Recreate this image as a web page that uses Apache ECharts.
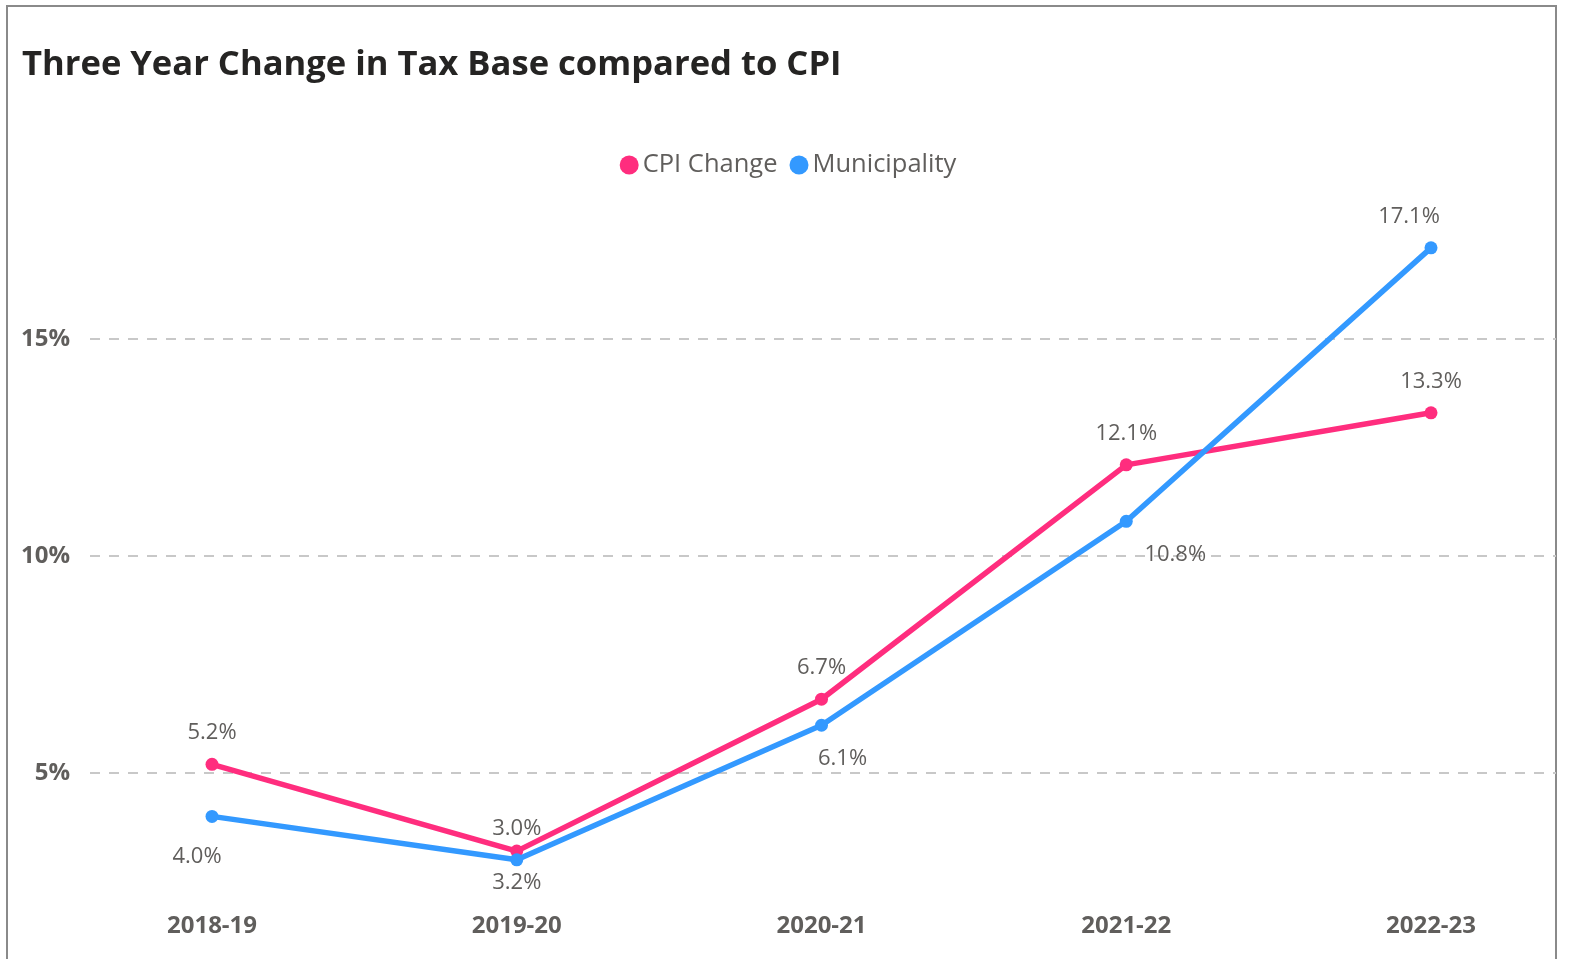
<!DOCTYPE html>
<html>
<head>
<meta charset="utf-8">
<script src="https://cdn.jsdelivr.net/npm/echarts@6/dist/echarts.min.js"></script>
<style>
html,body{margin:0;padding:0;background:#fff;overflow:hidden;width:1576px;height:959px;}
#chart{width:1576px;height:1000px;}
</style>
</head>
<body>
<div id="chart"></div>
<script>
const categories = ['2018-19', '2019-20', '2020-21', '2021-22', '2022-23'];
const cpiChange = [5.2, 3.2, 6.7, 12.1, 13.3];
const municipality = [4.0, 3.0, 6.1, 10.8, 17.1];
const yTicks = [5, 10, 15];

const FONT = '"Segoe UI", "Open Sans", "Noto Sans", sans-serif';
const TXT = '#605E5C';
const PINK = '#FF2D7E';
const BLUE = '#3399FF';

// label placement per point (presentation only)
const cpiLabelPlace = [
  {position: 'top'}, {position: 'bottom'}, {position: 'top'}, {position: 'top'}, {position: 'top'}
];
const muniLabelPlace = [
  {position: 'bottom', offset: [-15, 9]},
  {position: 'top'},
  {position: 'bottom', offset: [21, 2]},
  {position: 'bottom', offset: [49, 2]},
  {position: 'top', offset: [-22, 0]}
];

function buildData(values, places) {
  return values.map((v, i) => ({value: v, label: Object.assign({}, places[i])}));
}

const labelBase = {
  show: true,
  color: TXT,
  fontFamily: FONT,
  fontSize: 22,
  distance: 14,
  formatter: p => p.value.toFixed(1) + '%'
};

const chart = echarts.init(document.getElementById('chart'), null, {renderer: 'canvas'});
chart.setOption({
  animation: false,
  backgroundColor: '#fff',
  graphic: [{
    type: 'rect',
    shape: {x: 7, y: 6, width: 1549, height: 1000},
    style: {fill: 'none', stroke: '#8a8a8a', lineWidth: 2},
    silent: true,
    z: -10
  }],
  title: {
    text: 'Three Year Change in Tax Base compared to CPI',
    left: 17,
    top: 43,
    textStyle: {fontFamily: FONT, fontSize: 34.6, fontWeight: 'bold', color: '#252423'}
  },
  legend: {
    top: 147,
    left: 'center',
    icon: 'circle',
    itemWidth: 19,
    itemHeight: 19,
    itemGap: 12,
    textStyle: {fontFamily: FONT, fontSize: 25.5, color: TXT, padding: [0, 0, 0, -1]},
    data: ['CPI Change', 'Municipality']
  },
  grid: [
    {left: 90, right: 20, top: 122, bottom: 10},
    {left: 212, right: 145, top: 122, bottom: 10}
  ],
  xAxis: [
    {gridIndex: 0, type: 'category', data: categories, show: false},
    {
      gridIndex: 1, type: 'category', data: categories, boundaryGap: false,
      offset: -84,
      axisLine: {show: false}, axisTick: {show: false}, splitLine: {show: false},
      axisLabel: {margin: 8, fontFamily: FONT, fontSize: 24, fontWeight: 'bold', color: TXT}
    }
  ],
  yAxis: [
    {
      gridIndex: 0, type: 'value', min: 0, max: 20, interval: 5,
      axisLine: {show: false}, axisTick: {show: false},
      axisLabel: {
        margin: 20, fontFamily: FONT, fontSize: 24, fontWeight: 'bold', color: TXT,
        showMinLabel: false, showMaxLabel: false,
        formatter: v => (yTicks.indexOf(v) >= 0 ? v + '%' : '')
      },
      splitLine: {
        show: true, showMinLine: false, showMaxLine: false,
        lineStyle: {color: '#C8C8C8', type: [10, 9], width: 2}
      }
    },
    {
      gridIndex: 1, type: 'value', min: 0, max: 20, interval: 5, show: false,
      splitLine: {show: false}
    }
  ],
  series: [
    {
      name: 'CPI Change', type: 'line', xAxisIndex: 1, yAxisIndex: 1,
      data: buildData(cpiChange, cpiLabelPlace),
      color: PINK,
      symbol: 'circle', symbolSize: 13,
      lineStyle: {width: 5.5, color: PINK},
      itemStyle: {color: PINK},
      label: labelBase,
      z: 3
    },
    {
      name: 'Municipality', type: 'line', xAxisIndex: 1, yAxisIndex: 1,
      data: buildData(municipality, muniLabelPlace),
      color: BLUE,
      symbol: 'circle', symbolSize: 13,
      lineStyle: {width: 5.5, color: BLUE},
      itemStyle: {color: BLUE},
      label: labelBase,
      z: 4
    }
  ]
});
</script>
</body>
</html>
